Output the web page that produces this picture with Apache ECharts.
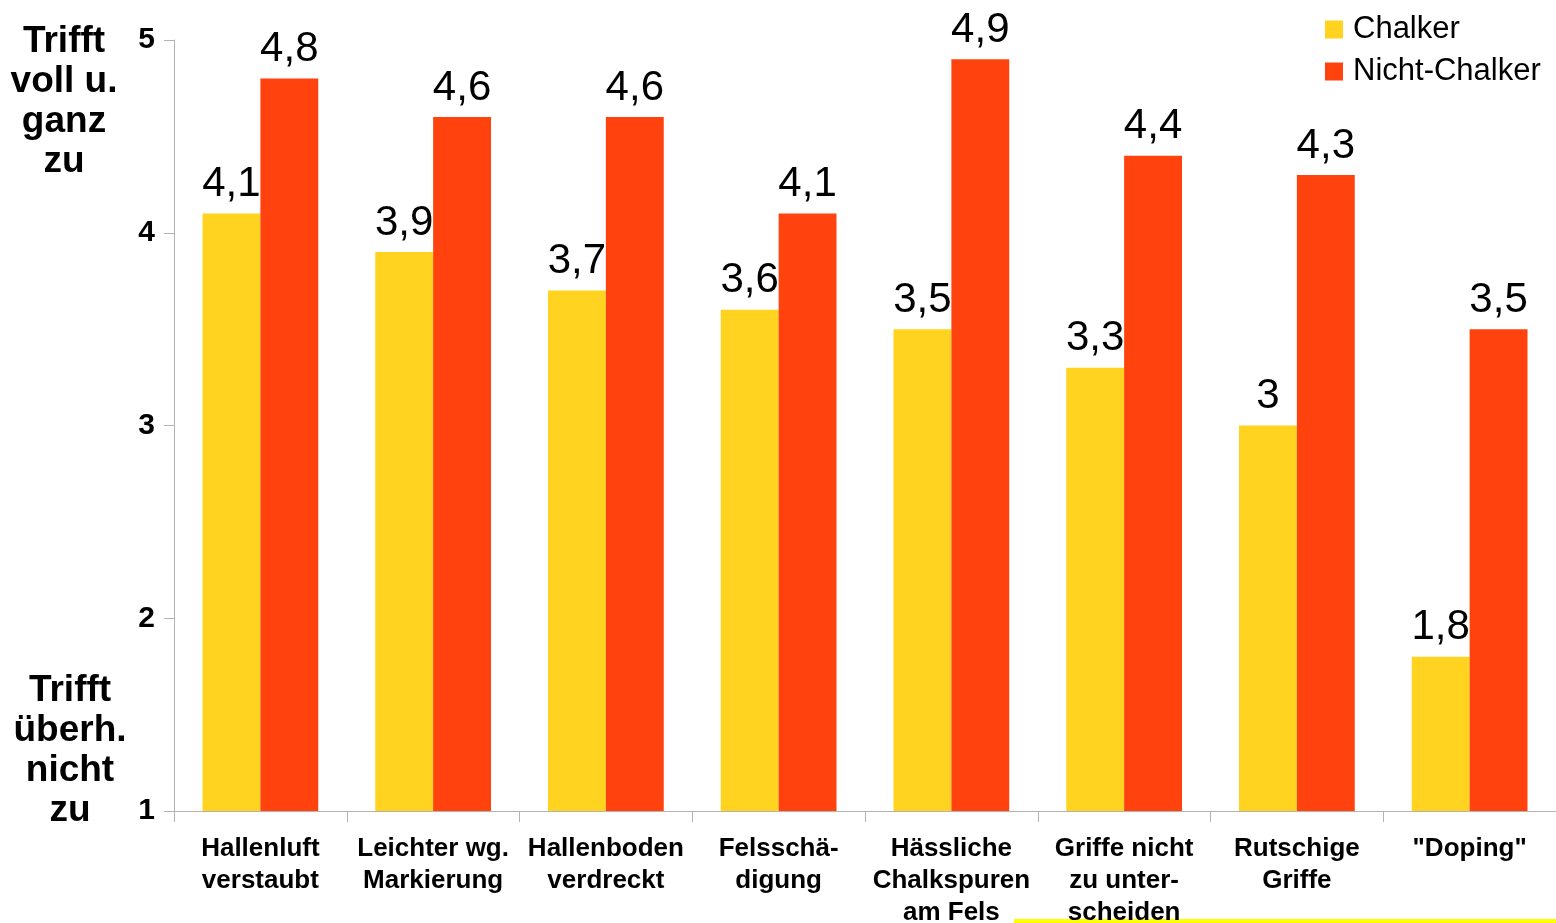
<!DOCTYPE html>
<html>
<head>
<meta charset="utf-8">
<script src="https://cdn.jsdelivr.net/npm/echarts@6/dist/echarts.min.js"></script>
<style>
  html, body { margin: 0; padding: 0; background: #fff; }
  #chart { width: 1556px; height: 923px; }
</style>
</head>
<body>
<div id="chart"></div>
<script>
// Daten
const categories = [
    'Hallenluft\nverstaubt',
    'Leichter wg.\nMarkierung',
    'Hallenboden\nverdreckt',
    'Felsschä-\ndigung',
    'Hässliche\nChalkspuren\nam Fels',
    'Griffe nicht\nzu unter-\nscheiden',
    'Rutschige\nGriffe',
    '"Doping"'
];
const chalker = [4.1, 3.9, 3.7, 3.6, 3.5, 3.3, 3, 1.8];
const nichtChalker = [4.8, 4.6, 4.6, 4.1, 4.9, 4.4, 4.3, 3.5];
const yTicks = [1, 2, 3, 4, 5];

const FONT = '"Liberation Sans", Arial, sans-serif';
const AXIS_GREY = '#b3b3b3';

// Werte mit Komma als Dezimaltrenner
const labelStyle = {
    show: true,
    position: 'top',
    distance: 8,
    fontFamily: FONT,
    fontSize: 42,
    color: '#000',
    formatter: (p) => String(p.value).replace('.', ',')
};

const chart = echarts.init(document.getElementById('chart'));

const option = {
    animation: false,
    textStyle: { fontFamily: FONT },
    color: ['#FFD320', '#FF420E'],
    grid: { left: 174, right: 0, top: 40, bottom: 112, containLabel: false, outerBoundsMode: 'none' },
    legend: {
        data: ['Chalker', 'Nicht-Chalker'],
        orient: 'vertical',
        left: 1325,
        top: 14,
        padding: 0,
        itemWidth: 18,
        itemHeight: 18,
        itemGap: 11,
        icon: 'rect',
        textStyle: { fontFamily: FONT, fontSize: 31, color: '#000', padding: [0, 0, 0, 5] }
    },
    xAxis: {
        type: 'category',
        data: categories,
        axisLine: { lineStyle: { color: AXIS_GREY, width: 1 } },
        axisTick: { show: true, alignWithLabel: false, length: 11, lineStyle: { color: AXIS_GREY } },
        axisLabel: {
            interval: 0,
            margin: 22,
            fontFamily: FONT,
            fontWeight: 'bold',
            fontSize: 26,
            lineHeight: 32,
            color: '#000'
        }
    },
    yAxis: {
        type: 'value',
        min: yTicks[0],
        max: yTicks[yTicks.length - 1],
        interval: 1,
        splitLine: { show: false },
        axisLine: { show: true, lineStyle: { color: AXIS_GREY, width: 1 } },
        axisTick: { show: true, length: 10, lineStyle: { color: AXIS_GREY } },
        axisLabel: {
            margin: 19,
            fontFamily: FONT,
            fontWeight: 'bold',
            fontSize: 30,
            color: '#000'
        }
    },
    series: [
        {
            name: 'Chalker',
            type: 'bar',
            data: chalker,
            barGap: '0%',
            barCategoryGap: '33%',
            label: labelStyle
        },
        {
            name: 'Nicht-Chalker',
            type: 'bar',
            data: nichtChalker,
            label: labelStyle
        }
    ],
    graphic: [
        {
            type: 'text',
            x: 64,
            y: 22,
            style: {
                text: 'Trifft\nvoll u.\nganz\nzu',
                align: 'center',
                font: 'bold 37px ' + FONT,
                lineHeight: 40,
                fill: '#000'
            }
        },
        {
            type: 'text',
            x: 70,
            y: 671,
            style: {
                text: 'Trifft\nüberh.\nnicht\nzu',
                align: 'center',
                font: 'bold 37px ' + FONT,
                lineHeight: 40,
                fill: '#000'
            }
        },
        {
            type: 'rect',
            shape: { x: 1014, y: 919, width: 542, height: 4 },
            style: { fill: '#FFFF00' }
        }
    ]
};

chart.setOption(option);
</script>
</body>
</html>
